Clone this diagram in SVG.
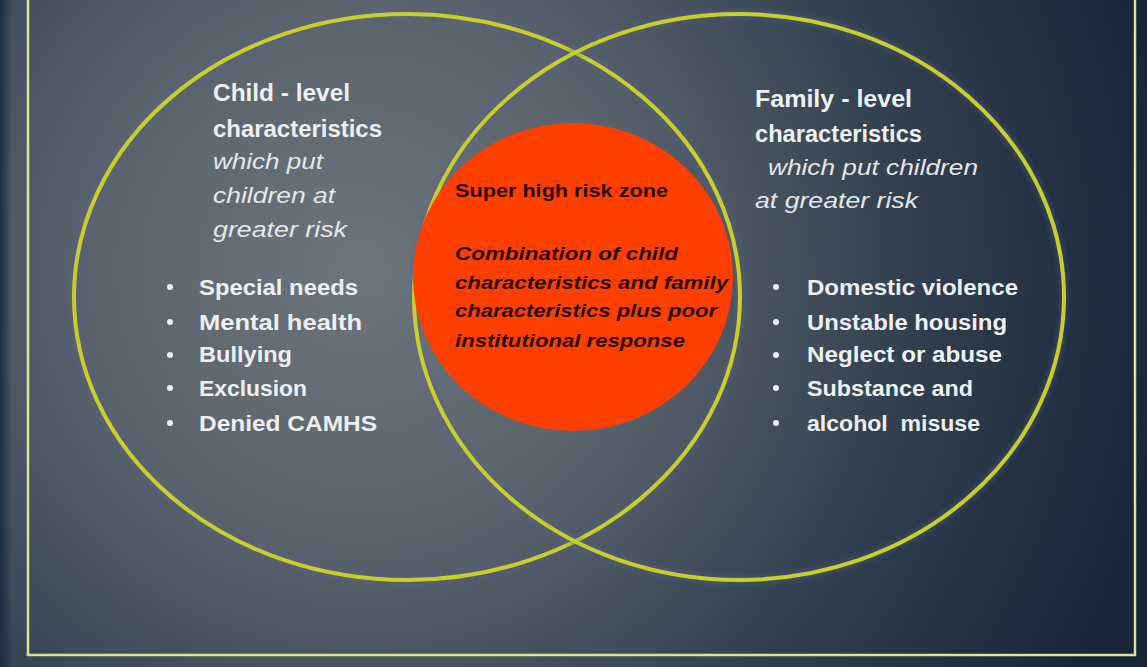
<svg xmlns="http://www.w3.org/2000/svg" width="1147" height="667" viewBox="0 0 1147 667">
  <defs>
    <radialGradient id="bg" cx="360" cy="270" r="820" gradientUnits="userSpaceOnUse">
      <stop offset="0" stop-color="#6d767d"/>
      <stop offset="0.35" stop-color="#58626c"/>
      <stop offset="0.7" stop-color="#2f3d4c"/>
      <stop offset="1" stop-color="#182638"/>
    </radialGradient>
    <linearGradient id="edge" x1="0" y1="0" x2="1" y2="0">
      <stop offset="0" stop-color="#1c2d44"/>
      <stop offset="1" stop-color="#1c2d44" stop-opacity="0"/>
    </linearGradient>
    <filter id="glow" x="-10%" y="-10%" width="120%" height="120%">
      <feGaussianBlur stdDeviation="2.5"/>
    </filter>
  </defs>
  <style>
    .ring { fill: none; stroke: #c8cf26; stroke-width: 4; }
    .halo { fill: none; stroke: #5a5fa0; stroke-width: 9; opacity: 0.35; }
    .head { font-family: "Liberation Sans", Arial, sans-serif; font-weight: bold; font-size: 23px; fill: #eef0f2; }
    .sub { font-family: "Liberation Sans", Arial, sans-serif; font-style: italic; font-size: 22px; fill: #e4e7ea; }
    .item { font-family: "Liberation Sans", Arial, sans-serif; font-weight: bold; font-size: 22px; fill: #eef0f2; }
    .dot { fill: #eef0f2; }
    .zone { font-family: "Liberation Sans", Arial, sans-serif; font-weight: bold; font-size: 19px; fill: #2a0800; }
    .zonei { font-family: "Liberation Sans", Arial, sans-serif; font-weight: bold; font-style: italic; font-size: 19px; fill: #2a0800; }
  </style>

  <rect x="0" y="0" width="1147" height="667" fill="url(#bg)"/>
  <rect x="0" y="0" width="12" height="667" fill="url(#edge)"/>

  <g id="frame">
    <rect x="28" y="-10" width="1107" height="665" fill="none" stroke="#dfe39a" stroke-width="2.5"/>
  </g>

  <g id="child-circle">
    <ellipse class="halo" cx="407" cy="297" rx="333" ry="283" filter="url(#glow)"/>
    <ellipse class="ring" cx="407" cy="297" rx="333" ry="283"/>
    <text class="head" x="213" y="101" textLength="137" lengthAdjust="spacingAndGlyphs">Child - level</text>
    <text class="head" x="213" y="137" textLength="169" lengthAdjust="spacingAndGlyphs">characteristics</text>
    <text class="sub" x="213" y="169" textLength="110" lengthAdjust="spacingAndGlyphs">which put</text>
    <text class="sub" x="213" y="203" textLength="122" lengthAdjust="spacingAndGlyphs">children at</text>
    <text class="sub" x="213" y="237" textLength="134" lengthAdjust="spacingAndGlyphs">greater risk</text>
    <circle class="dot" cx="170" cy="287" r="3"/>
    <circle class="dot" cx="170" cy="322" r="3"/>
    <circle class="dot" cx="170" cy="355" r="3"/>
    <circle class="dot" cx="170" cy="388" r="3"/>
    <circle class="dot" cx="170" cy="423" r="3"/>
    <text class="item" x="199" y="295" textLength="159" lengthAdjust="spacingAndGlyphs">Special needs</text>
    <text class="item" x="199" y="330" textLength="163" lengthAdjust="spacingAndGlyphs">Mental health</text>
    <text class="item" x="199" y="362" textLength="93" lengthAdjust="spacingAndGlyphs">Bullying</text>
    <text class="item" x="199" y="396" textLength="108" lengthAdjust="spacingAndGlyphs">Exclusion</text>
    <text class="item" x="199" y="431" textLength="178" lengthAdjust="spacingAndGlyphs">Denied CAMHS</text>
  </g>

  <g id="family-circle">
    <ellipse class="halo" cx="739" cy="297" rx="325" ry="283" filter="url(#glow)"/>
    <ellipse class="ring" cx="739" cy="297" rx="325" ry="283"/>
    <text class="head" x="755" y="107" textLength="157" lengthAdjust="spacingAndGlyphs">Family - level</text>
    <text class="head" x="755" y="142" textLength="167" lengthAdjust="spacingAndGlyphs">characteristics</text>
    <text class="sub" x="768" y="175" textLength="210" lengthAdjust="spacingAndGlyphs">which put children</text>
    <text class="sub" x="755" y="208" textLength="163" lengthAdjust="spacingAndGlyphs">at greater risk</text>
    <circle class="dot" cx="776" cy="287" r="3"/>
    <circle class="dot" cx="776" cy="322" r="3"/>
    <circle class="dot" cx="776" cy="355" r="3"/>
    <circle class="dot" cx="776" cy="388" r="3"/>
    <circle class="dot" cx="776" cy="423" r="3"/>
    <text class="item" x="807" y="295" textLength="211" lengthAdjust="spacingAndGlyphs">Domestic violence</text>
    <text class="item" x="807" y="330" textLength="200" lengthAdjust="spacingAndGlyphs">Unstable housing</text>
    <text class="item" x="807" y="362" textLength="195" lengthAdjust="spacingAndGlyphs">Neglect or abuse</text>
    <text class="item" x="807" y="396" textLength="166" lengthAdjust="spacingAndGlyphs">Substance and</text>
    <text class="item" x="807" y="431" textLength="173" lengthAdjust="spacingAndGlyphs" xml:space="preserve">alcohol  misuse</text>
  </g>

  <g id="high-risk-zone">
    <ellipse cx="573" cy="277" rx="160" ry="154" fill="#ff3f00"/>
    <text class="zone" x="455" y="197" textLength="213" lengthAdjust="spacingAndGlyphs">Super high risk zone</text>
    <text class="zonei" x="455" y="260" textLength="223" lengthAdjust="spacingAndGlyphs">Combination of child</text>
    <text class="zonei" x="455" y="289" textLength="273" lengthAdjust="spacingAndGlyphs">characteristics and family</text>
    <text class="zonei" x="455" y="317" textLength="262" lengthAdjust="spacingAndGlyphs">characteristics plus poor</text>
    <text class="zonei" x="455" y="347" textLength="230" lengthAdjust="spacingAndGlyphs">institutional response</text>
  </g>
</svg>
